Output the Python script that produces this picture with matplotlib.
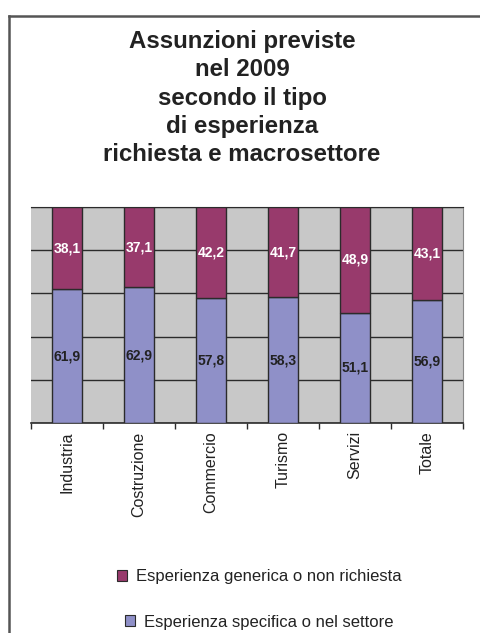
import matplotlib.pyplot as plt
from matplotlib.patches import Patch
from matplotlib.lines import Line2D

# sectors and shares (%) of planned hires by required experience
settori = ['Industria', 'Costruzione', 'Commercio', 'Turismo', 'Servizi', 'Totale']
specifica = [61.9, 62.9, 57.8, 58.3, 51.1, 56.9]
generica = [38.1, 37.1, 42.2, 41.7, 48.9, 43.1]

col_spec = '#8f90c8'
col_gen = '#983a6c'
col_bg = '#c8c8c8'
col_line = '#2b2b2b'

plt.rcParams['font.family'] = ['Liberation Sans', 'DejaVu Sans']

fig = plt.figure(figsize=(4.8, 6.33), dpi=100)
ax = fig.add_axes([31 / 480, 1 - 423 / 633, 432 / 480, 216 / 633])
ax.set_facecolor(col_bg)

x = range(len(settori))
w = 0.42
ax.bar(x, specifica, width=w, color=col_spec, edgecolor=col_line, linewidth=1, zorder=3)
ax.bar(x, generica, width=w, bottom=specifica, color=col_gen, edgecolor=col_line,
       linewidth=1, zorder=3)

for i in x:
    ax.text(i, specifica[i] / 2, f'{specifica[i]:.1f}'.replace('.', ','), ha='center',
            va='center', fontsize=10, fontweight='bold', color='#222222', zorder=4)
    ax.text(i, specifica[i] + generica[i] / 2, f'{generica[i]:.1f}'.replace('.', ','),
            ha='center', va='center', fontsize=10, fontweight='bold', color='white', zorder=4)

ax.set_xlim(-0.5, len(settori) - 0.5)
ax.set_ylim(0, 100)
ax.set_yticks([0, 20, 40, 60, 80, 100])
ax.yaxis.grid(True, color=col_line, linewidth=1, zorder=1)
ax.tick_params(axis='y', left=False, labelleft=False)
ax.set_xticks(list(x))
ax.set_xticklabels(settori, rotation=90, fontsize=11.5, color='#222222')
ax.tick_params(axis='x', which='major', length=0, pad=6)
ax.set_xticks([i - 0.5 for i in range(len(settori) + 1)], minor=True)
ax.tick_params(axis='x', which='minor', length=4, width=1, color=col_line)
ax.spines['left'].set_visible(False)
ax.spines['top'].set_color(col_line)
ax.spines['right'].set_color('#888888')
ax.spines['bottom'].set_color(col_line)
ax.spines['bottom'].set_linewidth(1.2)

fig.text(242 / 480, 1 - 98 / 633,
         'Assunzioni previste\nnel 2009\nsecondo il tipo\ndi esperienza\nrichiesta e macrosettore',
         ha='center', va='center', fontsize=17.3, fontweight='bold', color='#222222',
         linespacing=1.28)

# outer frame (left and top edges)
fig.add_artist(Line2D([8.5 / 480, 8.5 / 480], [0, 1 - 15.5 / 633], color='#555555', linewidth=1.8))
fig.add_artist(Line2D([8.5 / 480, 1], [1 - 15.5 / 633, 1 - 15.5 / 633], color='#555555', linewidth=1.8))

voci = [('Esperienza generica o non richiesta', col_gen, 577),
        ('Esperienza specifica o nel settore', col_spec, 622)]
for testo, col, ypx in voci:
    fig.legend(handles=[Patch(facecolor=col, edgecolor=col_line, linewidth=0.8)], labels=[testo],
               loc='center', bbox_to_anchor=(259 / 480, 1 - ypx / 633), frameon=False,
               fontsize=12, handlelength=0.62, handleheight=0.62, handletextpad=0.5,
               labelcolor='#222222')

fig.savefig('out.png', dpi=100)
